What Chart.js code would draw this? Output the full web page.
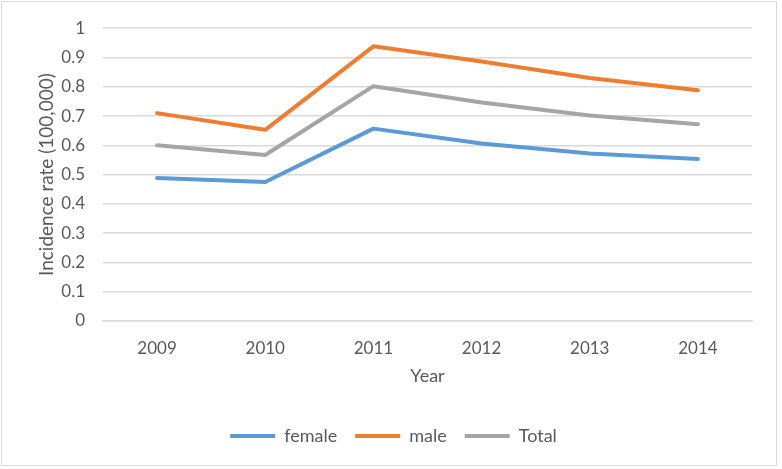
<!DOCTYPE html>
<html>
<head>
<meta charset="utf-8">
<script src="https://cdn.jsdelivr.net/npm/chart.js@4/dist/chart.umd.min.js"></script>
<style>
  html, body { margin: 0; padding: 0; background: #fff; }
  .frame { position: absolute; left: 1px; top: 1px; width: 776px; height: 465px; border: 1px solid #d9d9d9; box-sizing: border-box; }
  .wrap { position: absolute; left: 0; top: 0; width: 782px; height: 469px; }
</style>
</head>
<body>
<div class="frame"></div>
<div class="wrap"><canvas id="chart"></canvas></div>
<script>
const years = ['2009', '2010', '2011', '2012', '2013', '2014'];
const female = [0.488, 0.475, 0.657, 0.606, 0.572, 0.553];
const male = [0.710, 0.653, 0.938, 0.886, 0.830, 0.788];
const total = [0.600, 0.567, 0.802, 0.746, 0.702, 0.672];

const textColor = '#595959';
const gridColor = '#d9d9d9';
const fontFamily = 'Lato, "Open Sans", sans-serif';

function series(label, data, color) {
    return {
        label: label,
        data: data,
        borderColor: color,
        backgroundColor: color,
        borderWidth: 4,
        borderCapStyle: 'round',
        borderJoinStyle: 'round',
        pointRadius: 0,
        pointHoverRadius: 0,
        tension: 0,
        fill: false
    };
}

new Chart(document.getElementById('chart'), {
    type: 'line',
    data: {
        labels: years,
        datasets: [
            series('female', female, '#5b9bd5'),
            series('male', male, '#ed7d31'),
            series('Total', total, '#a5a5a5')
        ]
    },
    options: {
        responsive: true,
        maintainAspectRatio: false,
        animation: false,
        layout: { padding: { top: 25, right: 30, bottom: 14, left: 35 } },
        plugins: {
            tooltip: { enabled: false },
            legend: {
                position: 'bottom',
                labels: {
                    usePointStyle: true,
                    pointStyle: 'line',
                    pointStyleWidth: 45,
                    color: textColor,
                    padding: 18,
                    font: { family: fontFamily, size: 18 }
                }
            }
        },
        scales: {
            x: {
                offset: true,
                grid: { display: false, drawTicks: false, offset: false },
                border: { display: true, color: gridColor, width: 1.5 },
                ticks: { color: textColor, padding: 17, font: { family: fontFamily, size: 17 } },
                title: {
                    display: true,
                    text: 'Year',
                    color: textColor,
                    padding: { top: -10, bottom: 22 },
                    font: { family: fontFamily, size: 18 }
                }
            },
            y: {
                min: 0,
                max: 1,
                ticks: {
                    stepSize: 0.1,
                    color: textColor,
                    padding: 18,
                    font: { family: fontFamily, size: 17 },
                    callback: v => Math.round(v * 10) / 10
                },
                grid: { color: gridColor, lineWidth: 1.5, drawTicks: false },
                border: { display: false },
                title: {
                    display: true,
                    text: 'Incidence rate (100,000)',
                    color: textColor,
                    padding: { top: 0, bottom: 4 },
                    font: { family: fontFamily, size: 19 }
                },
                afterFit: s => { s.width = 68; }
            }
        }
    }
});
</script>
</body>
</html>
